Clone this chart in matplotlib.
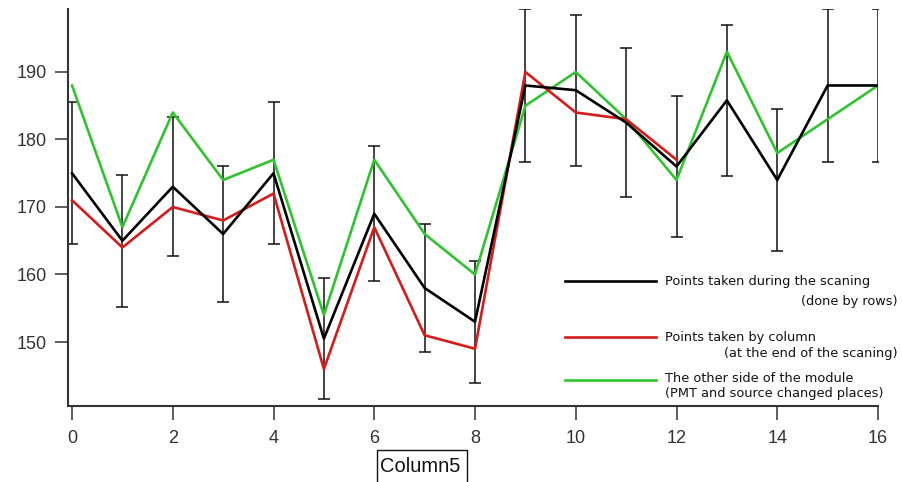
#!/usr/bin/env python3
"""Scan comparison: three measurement series with error bars."""

import matplotlib
matplotlib.use('Agg')
import matplotlib.pyplot as plt
from matplotlib.lines import Line2D
from matplotlib.patches import Rectangle

# --- data ------------------------------------------------------------------
x_rows = list(range(17))
rows = [175, 165, 173, 166, 175, 150.5, 169, 158, 153,
        188, 187.3, 182.5, 176, 185.8, 174, 188, 188]
rows_err = [10.5, 9.8, 10.3, 10, 10.5, 9, 10, 9.5, 9,
            11.3, 11.2, 11, 10.5, 11.2, 10.5, 11.3, 11.3]

x_cols = list(range(13))
cols = [171, 164, 170, 168, 172, 146, 167, 151, 149, 190, 184, 183, 177]

x_other = list(range(17))
other = [188, 167, 184, 174, 177, 154, 177, 166, 160,
         185, 190, 183, 174, 193, 178, 183, 188]

x_ticks = list(range(0, 17, 2))
y_ticks = [150, 160, 170, 180, 190]

legend_rows = ('Points taken during the scaning', '(done by rows)')
legend_cols = ('Points taken by column', '(at the end of the scaning)')
legend_other = ('The other side of the module', '(PMT and source changed places)')
axis_label = 'Column5'

COLORS = {'rows': '#000000', 'cols': '#d41c1c', 'other': '#2fc42f'}

W, H = 902, 482
plt.rcParams.update({'font.family': ['Liberation Sans', 'DejaVu Sans']})

fig = plt.figure(figsize=(W / 100, H / 100), dpi=100)


def px(x, y):
    """pixel position (from top-left) -> figure fraction"""
    return x / W, 1 - y / H


ax = fig.add_axes([68 / W, (H - 406) / H, 810 / W, 397 / H])

ax.errorbar(x_rows, rows, yerr=rows_err, fmt='none', ecolor='#111111',
            elinewidth=1.1, capsize=4.2, capthick=1.1, zorder=1)
ax.plot(x_other, other, color=COLORS['other'], lw=1.9, zorder=2)
ax.plot(x_cols, cols, color=COLORS['cols'], lw=1.9, zorder=3)
ax.plot(x_rows, rows, color=COLORS['rows'], lw=1.9, zorder=4)

ax.set_xlim(-0.08, 16)
ax.set_ylim(140.52, 199.33)
ax.set_xticks(x_ticks)
ax.set_yticks(y_ticks)

for side in ('top', 'right'):
    ax.spines[side].set_visible(False)
for side in ('left', 'bottom'):
    ax.spines[side].set_linewidth(1.5)
    ax.spines[side].set_color('#333333')
ax.tick_params(axis='y', direction='out', length=9.5, width=1.1,
               pad=6, labelsize=13, colors='#333333')
ax.tick_params(axis='x', direction='out', length=10, width=1.1,
               pad=7, labelsize=13, colors='#333333')

# --- hand-placed legend, styled like the original --------------------------
lx0, lx1 = 565, 656
entries = [
    (legend_rows, COLORS['rows'], 281, 302, 'right'),
    (legend_cols, COLORS['cols'], 337, 353, 'right'),
    (legend_other, COLORS['other'], 378, 394, 'left'),
]
lfont = dict(fontsize=9.3, family=['DejaVu Sans'], color='#111111', va='center')
for (first, second), color, y1, y2, align in entries:
    a, b = px(lx0, y1 + 2 if align == 'left' else y1)
    c, _ = px(lx1, y1)
    fig.add_artist(Line2D([a, c], [b, b], color=color, lw=1.9,
                          transform=fig.transFigure))
    fig.text(*px(665, y1), first, ha='left', **lfont)
    if align == 'right':
        fig.text(*px(898, y2), second, ha='right', **lfont)
    else:
        fig.text(*px(665, y2), second, ha='left', **lfont)

# boxed axis name, cut off by the lower edge as in the original
bx, by = px(377, 490)
fig.add_artist(Rectangle((bx, by), 90 / W, 40 / H, transform=fig.transFigure,
                         fc='white', ec='#111111', lw=1))
fig.text(*px(380, 467), axis_label, fontsize=14.5, ha='left', va='center',
         color='#111111')

fig.savefig('out.png', dpi=100)
